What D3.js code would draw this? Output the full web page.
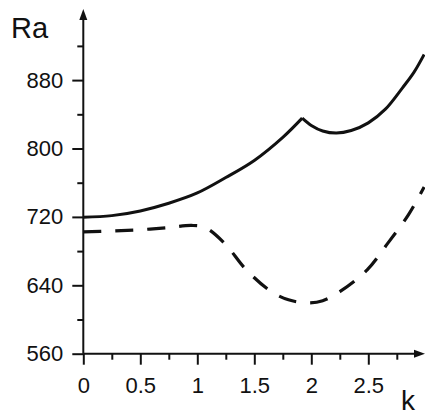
<!DOCTYPE html>
<html>
<head>
<meta charset="utf-8">
<script src="https://cdn.jsdelivr.net/npm/d3@7"></script>
<style>
  body { margin: 0; background: #fff; }
  svg text { font-family: "Liberation Sans", Arial, sans-serif; fill: #111; }
</style>
</head>
<body>
<figure style="margin:0"></figure>
<script>
// solid curve, split at the cusp so it stays sharp
const solidK1 = [0, 0.25, 0.5, 0.75, 1.0, 1.25, 1.5, 1.75, 1.92];
const solidRa1 = [719.5, 721.5, 727, 736, 748, 766, 786, 813, 835.5];
const solidK2 = [1.92, 2.0, 2.1, 2.22, 2.35, 2.5, 2.65, 2.8, 2.9, 2.99];
const solidRa2 = [835.5, 827, 820.5, 818, 821, 830, 846, 871, 889, 910];

// dashed curve
const dashK = [0, 0.25, 0.5, 0.75, 0.95, 1.07, 1.24, 1.43, 1.65, 1.8, 1.96, 2.1, 2.25, 2.49, 2.67, 2.85, 2.99];
const dashRa = [702.5, 703.5, 705, 707.5, 710, 707.5, 689, 658, 632.5, 623, 619.5, 622, 632.5, 658, 689, 722, 755];

const yMajor = [560, 640, 720, 800, 880];
const yMinor = [600, 680, 760, 840, 920];
const xMajor = [0, 0.5, 1, 1.5, 2, 2.5];
const xMinor = [0.25, 0.75, 1.25, 1.75, 2.25, 2.75];

const width = 425, height = 417;
const x = d3.scaleLinear().domain([0, 3]).range([83.3, 425.3]);
const y = d3.scaleLinear().domain([560, 960]).range([353.7, 11.7]);

const svg = d3.select("figure").append("svg")
    .attr("width", width)
    .attr("height", height);

// y axis ticks
const yAxis = svg.append("g")
    .attr("transform", `translate(${x(0)},0)`)
    .call(d3.axisLeft(y).tickValues(yMajor).tickSize(11).tickPadding(9).tickFormat(d3.format("d")));
yAxis.select(".domain").remove();
yAxis.selectAll("line").attr("stroke", "#111").attr("stroke-width", 2);
yAxis.selectAll("text").attr("font-size", 22).style("font-family", null).attr("fill", "#111");

const yMin = svg.append("g")
    .attr("transform", `translate(${x(0)},0)`)
    .call(d3.axisLeft(y).tickValues(yMinor).tickSize(6).tickFormat(""));
yMin.select(".domain").remove();
yMin.selectAll("line").attr("stroke", "#111").attr("stroke-width", 2);

// x axis ticks
const xAxis = svg.append("g")
    .attr("transform", `translate(0,${y(560)})`)
    .call(d3.axisBottom(x).tickValues(xMajor).tickSize(11).tickPadding(13).tickFormat(d => d));
xAxis.select(".domain").remove();
xAxis.selectAll("line").attr("stroke", "#111").attr("stroke-width", 2);
xAxis.selectAll("text").attr("font-size", 22).style("font-family", null).attr("fill", "#111");

const xMin = svg.append("g")
    .attr("transform", `translate(0,${y(560)})`)
    .call(d3.axisBottom(x).tickValues(xMinor).tickSize(6).tickFormat(""));
xMin.select(".domain").remove();
xMin.selectAll("line").attr("stroke", "#111").attr("stroke-width", 2);

// axis lines with arrows
svg.append("line")
    .attr("x1", x(0)).attr("x2", x(0))
    .attr("y1", y(560)).attr("y2", 16)
    .attr("stroke", "#111").attr("stroke-width", 2);
svg.append("path")
    .attr("d", `M${x(0)},9 L${x(0) - 4},20 L${x(0) + 4},20 Z`)
    .attr("fill", "#111");
svg.append("line")
    .attr("x1", x(0)).attr("x2", 418)
    .attr("y1", y(560)).attr("y2", y(560))
    .attr("stroke", "#111").attr("stroke-width", 2);
svg.append("path")
    .attr("d", `M425,${y(560)} L414,${y(560) - 4} L414,${y(560) + 4} Z`)
    .attr("fill", "#111");

// curves
const line = d3.line()
    .x(d => x(d[0]))
    .y(d => y(d[1]))
    .curve(d3.curveCatmullRom);

const seg1 = solidK1.map((k, i) => [k, solidRa1[i]]);
const seg2 = solidK2.map((k, i) => [k, solidRa2[i]]);
const dashed = dashK.map((k, i) => [k, dashRa[i]]);

[seg1, seg2].forEach(s => {
  svg.append("path")
      .attr("d", line(s))
      .attr("fill", "none")
      .attr("stroke", "#111")
      .attr("stroke-width", 3)
      .attr("stroke-linejoin", "miter");
});

svg.append("path")
    .attr("d", line(dashed))
    .attr("fill", "none")
    .attr("stroke", "#111")
    .attr("stroke-width", 3.2)
    .attr("stroke-dasharray", "18 14");

// axis titles
svg.append("text")
    .attr("x", 11).attr("y", 38)
    .attr("font-size", 29)
    .text("Ra");
svg.append("text")
    .attr("x", 401).attr("y", 410)
    .attr("font-size", 28)
    .text("k");
</script>
</body>
</html>
